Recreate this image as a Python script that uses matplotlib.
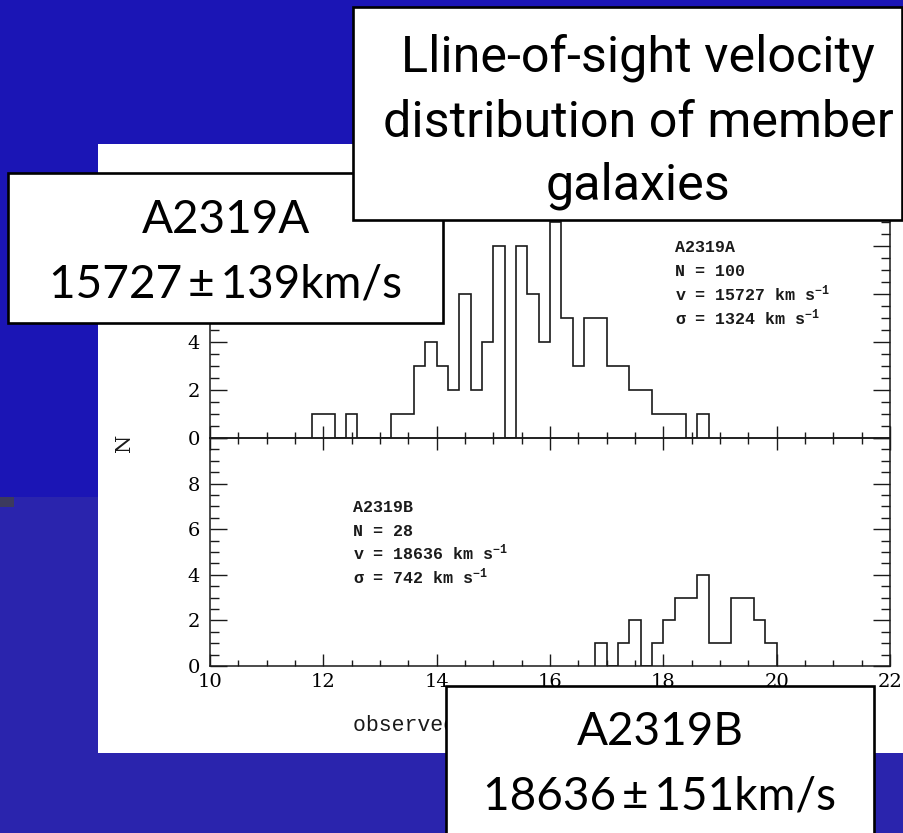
import numpy as np
import matplotlib.pyplot as plt
from matplotlib.patches import Rectangle
from matplotlib.ticker import MultipleLocator
from matplotlib.transforms import Bbox

W, H = 904, 833

# velocity histograms, 10^3 km/s, 200 km/s bins
bin_width = 0.2
start_a = 11.8
counts_a = [1, 1, 0, 1, 0, 0, 0, 1, 1, 3, 4, 3, 2, 6, 2, 4, 8, 0,
            8, 6, 4, 9, 5, 3, 5, 5, 3, 3, 2, 2, 1, 1, 1, 0, 1]
start_b = 16.8
counts_b = [1, 0, 1, 2, 0, 1, 2, 3, 3, 4, 1, 1, 3, 3, 2, 1]

stats_a = ["A2319A", "N = 100", "v = 15727 km s$^{-1}$", "σ = 1324 km s$^{-1}$"]
stats_b = ["A2319B", "N = 28", "v = 18636 km s$^{-1}$", "σ = 742 km s$^{-1}$"]

title_lines = ["Lline-of-sight velocity", "distribution of member", "galaxies"]
box_a_lines = ["A2319A", "15727\u2009±\u2009139km/s"]
box_b_lines = ["A2319B", "18636\u2009±\u2009151km/s"]

plt.rcParams['mathtext.fontset'] = 'custom'
plt.rcParams['mathtext.rm'] = 'Liberation Mono:bold'
plt.rcParams['mathtext.it'] = 'Liberation Mono:italic:bold'
plt.rcParams['mathtext.bf'] = 'Liberation Mono:bold'

fig = plt.figure(figsize=(W / 100, H / 100), dpi=100)
fig.patch.set_facecolor('#1b15b5')


def px(x, y):
    return x / W, 1 - y / H


def box(x0, y0, x1, y1, **kw):
    r = Rectangle(px(x0, y1), (x1 - x0) / W, (y1 - y0) / H,
                  transform=fig.transFigure, **kw)
    fig.patches.append(r)
    return r


# slide background and scanned page
box(0, 497, W, H, facecolor='#2a24ad', edgecolor='none', zorder=-3)
box(0, 497, 14, 507, facecolor='#3c3a5e', edgecolor='none', zorder=-2)
box(98, 144, W, 753, facecolor='white', edgecolor='none', zorder=-1)


def axes_px(x0, y0, x1, y1):
    return [x0 / W, 1 - y1 / H, (x1 - x0) / W, (y1 - y0) / H]


ax_top = fig.add_axes(axes_px(210, 198, 890, 438))
ax_bot = fig.add_axes(axes_px(210, 438, 890, 666))

ink = '#1a1a1a'

for ax, start, counts in [(ax_top, start_a, counts_a), (ax_bot, start_b, counts_b)]:
    edges = start + bin_width * np.arange(len(counts) + 1)
    ax.stairs(counts, edges, baseline=0, color=ink, lw=1.2)
    ax.set_xlim(10, 22)
    ax.set_ylim(0, 10)
    ax.set_facecolor('none')
    for s in ax.spines.values():
        s.set_color(ink)
        s.set_linewidth(1.1)
    ax.set_xticks(range(10, 23, 2))
    ax.xaxis.set_minor_locator(MultipleLocator(0.5))
    ax.yaxis.set_minor_locator(MultipleLocator(0.5))
    ax.tick_params(axis='y', which='both', direction='in', left=True, right=True,
                   width=1.0, color=ink, pad=7, labelsize=14)
    ax.tick_params(axis='y', which='major', length=12)
    ax.tick_params(axis='y', which='minor', length=6.5)

# upper labels above 4 sit under the A2319A frame
ax_top.set_yticks([0, 2, 4, 6, 8, 10], labels=['0', '2', '4', '', '', ''])
ax_bot.set_yticks([0, 2, 4, 6, 8, 10], labels=['0', '2', '4', '6', '8', ''])
for ax in (ax_top, ax_bot):
    for lab in ax.get_yticklabels():
        lab.set_fontfamily('DejaVu Serif')

ax_top.tick_params(axis='x', which='both', direction='inout', width=1.0,
                   color=ink, labelbottom=False)
ax_top.tick_params(axis='x', which='major', length=17)
ax_top.tick_params(axis='x', which='minor', length=8.5)

ax_bot.tick_params(axis='x', which='both', direction='in', width=1.0,
                   color=ink, pad=5, labelsize=14)
ax_bot.tick_params(axis='x', which='major', length=9)
ax_bot.tick_params(axis='x', which='minor', length=4.5)
for lab in ax_bot.get_xticklabels():
    lab.set_fontfamily('DejaVu Serif')

fig.text(*px(125, 443), "N", rotation=90, ha='center', va='center',
         family='DejaVu Serif', fontsize=15, color=ink)
# x axis title, the rest of it runs under the A2319B frame
xlab = fig.text(*px(353, 726), "observed velocity", ha='left', va='center',
                family=['Liberation Mono', 'DejaVu Sans Mono'], fontsize=15.5, color=ink)
xlab.set_clip_box(Bbox.from_extents(0, 0, 446, H))

mono = dict(family=['Liberation Mono', 'DejaVu Sans Mono'], weight='bold',
            fontsize=12, color=ink, va='center', ha='left')
for y, s in zip([247, 271, 294, 318], stats_a):
    fig.text(*px(675, y), s, **mono)
for y, s in zip([508, 531, 553, 577], stats_b):
    fig.text(*px(353, y), s, **mono)

# annotation boxes on top of the page
frame = dict(facecolor='white', edgecolor='black', linewidth=1.9, zorder=5)
box(8, 173, 443, 323, **frame)
box(353, 7, 902, 220, **frame)
box(446, 686, 874, 845, **frame)

label_font = dict(family=['Lato', 'DejaVu Sans'], fontsize=33, color='black',
                  ha='center', va='baseline', zorder=6)
for y, s in zip([233, 298], box_a_lines):
    fig.text(*px(226, y), s, **label_font)
for y, s in zip([745, 810], box_b_lines):
    fig.text(*px(660, y), s, **label_font)

title_texts = []
for y, s in zip([72, 137, 200], title_lines):
    t = fig.text(*px(638, y), s, family=['Roboto', 'DejaVu Sans'],
                 fontsize=40, color='black', ha='center', va='baseline', zorder=6)
    title_texts.append(t)

# shrink the title until its widest line fits inside the frame
renderer = fig.canvas.get_renderer()
while max(t.get_window_extent(renderer).width for t in title_texts) > 515:
    for t in title_texts:
        t.set_fontsize(t.get_fontsize() * 0.98)

fig.savefig("out.png", dpi=100, facecolor=fig.get_facecolor())
